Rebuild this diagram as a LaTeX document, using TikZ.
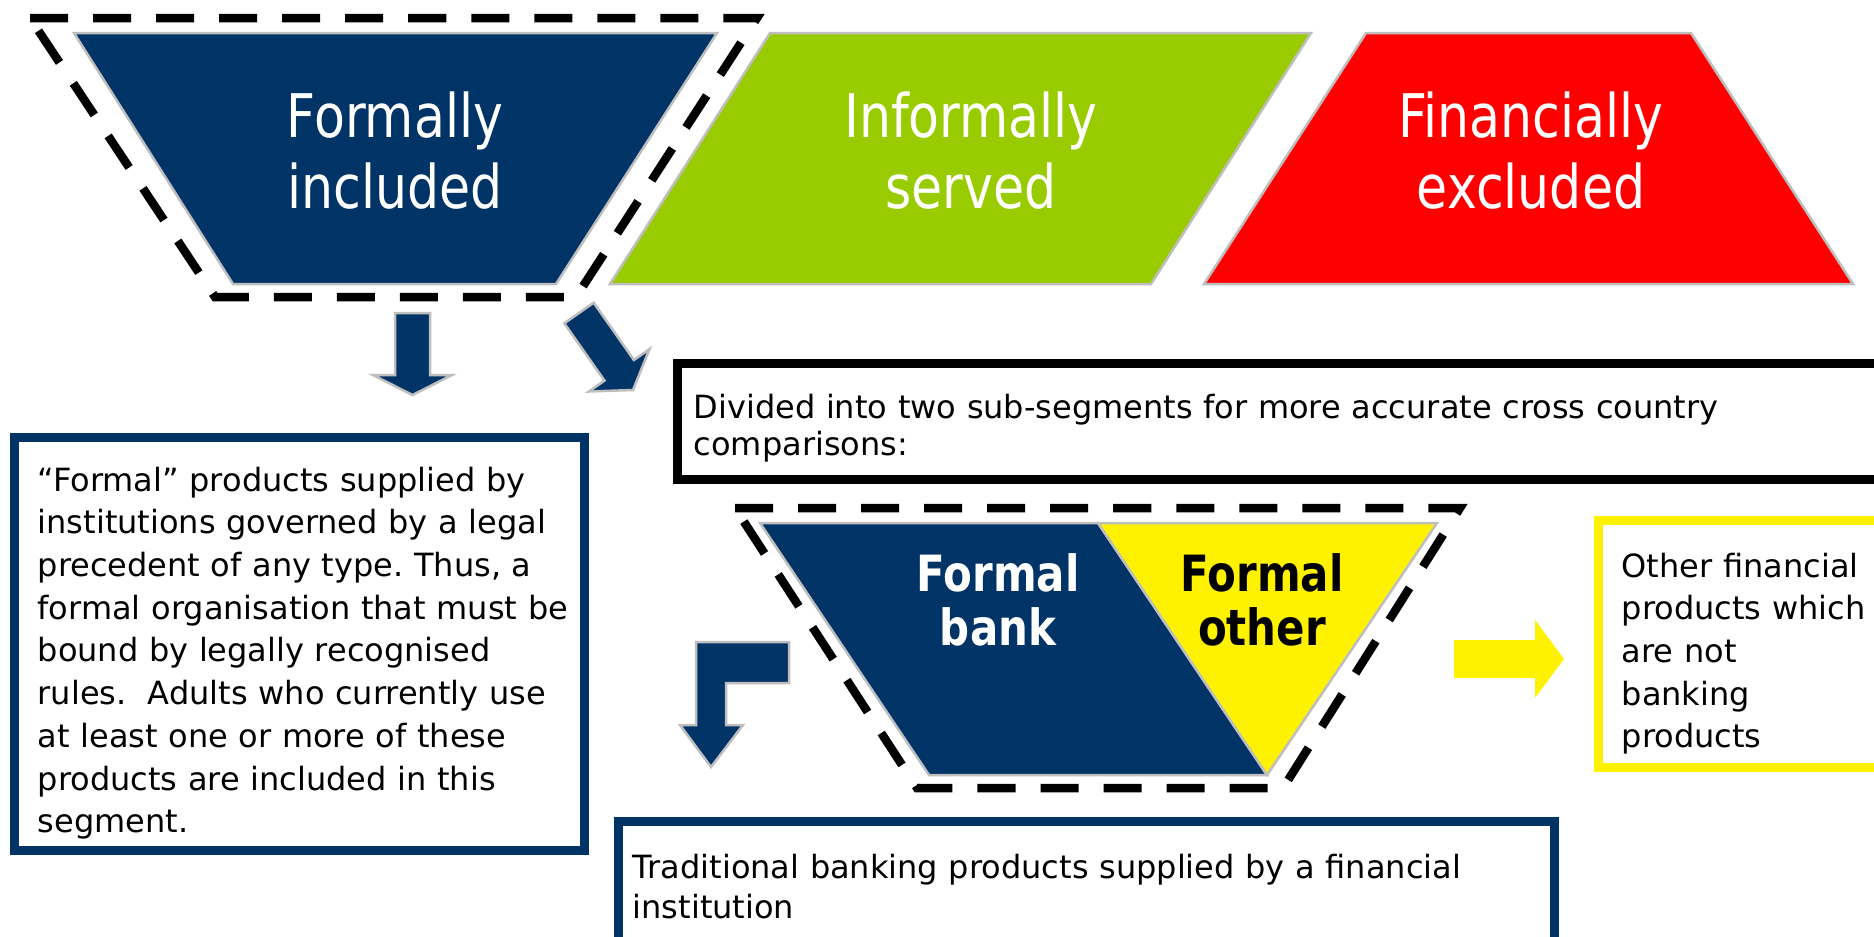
\documentclass[tikz,border=0pt]{standalone}
\usepackage{fontspec}
\setmainfont{DejaVu Sans}
\newfontfamily\narrowfont[FakeStretch=0.84]{DejaVu Sans}
\frenchspacing

\definecolor{navy}{RGB}{0,51,102}
\definecolor{leaf}{RGB}{153,204,0}
\definecolor{edgegrey}{RGB}{190,190,190}

\tikzset{
  segment/.style={draw=edgegrey, line width=0.25mm, line join=miter},
  dashline/.style={draw=black, line width=0.85mm, dash pattern=on 3.8mm off 2.5mm, line join=miter},
  framebox/.style={line width=0.9mm},
  biglabel/.style={text=white, font=\narrowfont\fontsize{17.1}{20.2}\selectfont,
    align=center, text width=4cm, anchor=base, inner sep=0pt},
  sublabel/.style={font=\narrowfont\bfseries\fontsize{14.2}{15.4}\selectfont,
    align=center, text width=3cm, anchor=base, inner sep=0pt},
  bodytext/.style={font=\fontsize{9.1}{12.15}\selectfont, align=left,
    anchor=base west, inner sep=0pt},
}

\begin{document}
\begin{tikzpicture}[x=0.01cm, y=-0.01cm]
      \useasboundingbox (0,0) rectangle (1874,936);
      %
      \draw[dashline] (30,18) -- (757,18) -- (576,297) -- (215,297) -- cycle; % round first segment
      \filldraw[segment, fill=navy] (74,33) -- (717,33) -- (556,284) -- (233,284) -- cycle;
      \filldraw[segment, fill=leaf] (770,33) -- (1311,33) -- (1151,284) -- (610,284) -- cycle;
      \filldraw[segment, fill=red] (1366,33) -- (1691,33) -- (1853,284) -- (1204,284) -- cycle;
      %
      \node[biglabel] (formalIn) at (395,137) {Formally\\included};   % top row
      \node[biglabel] (informal) at (971,137) {Informally\\served};
      \node[biglabel] (excluded) at (1531,137) {Financially\\excluded};
      %
      \filldraw[segment, fill=navy] (395,313) -- (430,313) -- (430,375) -- (452,375)
        -- (412.5,395) -- (373,375) -- (395,375) -- cycle;                % down
      \filldraw[segment, fill=navy] (564.3,323.3) -- (593.7,302.7) -- (633.9,360) -- (649.5,349.1)
        -- (633,390) -- (588.9,391.5) -- (604.5,380.6) -- cycle;          % down right
      %
      \draw[framebox, draw=navy] (14.5,437) rectangle (584.5,850);       % left box
      \node[bodytext, text width=5.6cm] (formalText) at (37,491)
        {“Formal” products supplied by\\
         institutions governed by a legal\\
         precedent of any type. Thus, a\\
         formal organisation that must be\\
         bound by legally recognised\\
         rules.\ \ Adults who currently use\\
         at least one or more of these\\
         products are included in this\\
         segment.};
      %
      \draw[framebox, draw=black] (677.5,363.5) rectangle (1900,479);    % split box
      \node[bodytext, text width=11cm, font=\fontsize{9.1}{10.8}\selectfont] (splitText) at (693,418)
        {Divided into two sub-segments for more accurate cross country\\comparisons:};
      %
      \draw[dashline] (735,508) -- (1460,508) -- (1283,788) -- (917,788) -- cycle; % sub-segments
      \filldraw[segment, fill=navy] (760,523) -- (1098,523) -- (1267,775) -- (929,775) -- cycle;
      \filldraw[segment, fill=yellow] (1098,523) -- (1437,523) -- (1267,775) -- cycle;
      \node[sublabel, text=white] (bank) at (998,591) {Formal\\bank};
      \node[sublabel, text=black] (other) at (1262,591) {Formal\\other};
      %
      \filldraw[segment, fill=navy] (789,642) -- (696,642) -- (696,725) -- (680,725) -- (711,767)
        -- (743,725) -- (726,725) -- (726,683) -- (789,683) -- cycle;    % bent down
      \draw[framebox, draw=navy] (618.5,821.5) rectangle (1554,960);     % bottom box
      \node[bodytext, text width=9.6cm, font=\fontsize{9.1}{11.4}\selectfont] (bankText) at (632,878)
        {Traditional banking products supplied by a financial\\institution};
      %
      \fill[yellow] (1454,640) -- (1535,640) -- (1535,620) -- (1564,659) -- (1535,698)
        -- (1535,678) -- (1454,678) -- cycle;                             % right
      \draw[framebox, draw=yellow] (1598.5,520.5) rectangle (1900,767.5);  % right box
      \node[bodytext, text width=2.6cm] (otherText) at (1621,577)
        {Other financial\\products which\\are not\\banking\\products};
      %
    \end{tikzpicture}
\end{document}
